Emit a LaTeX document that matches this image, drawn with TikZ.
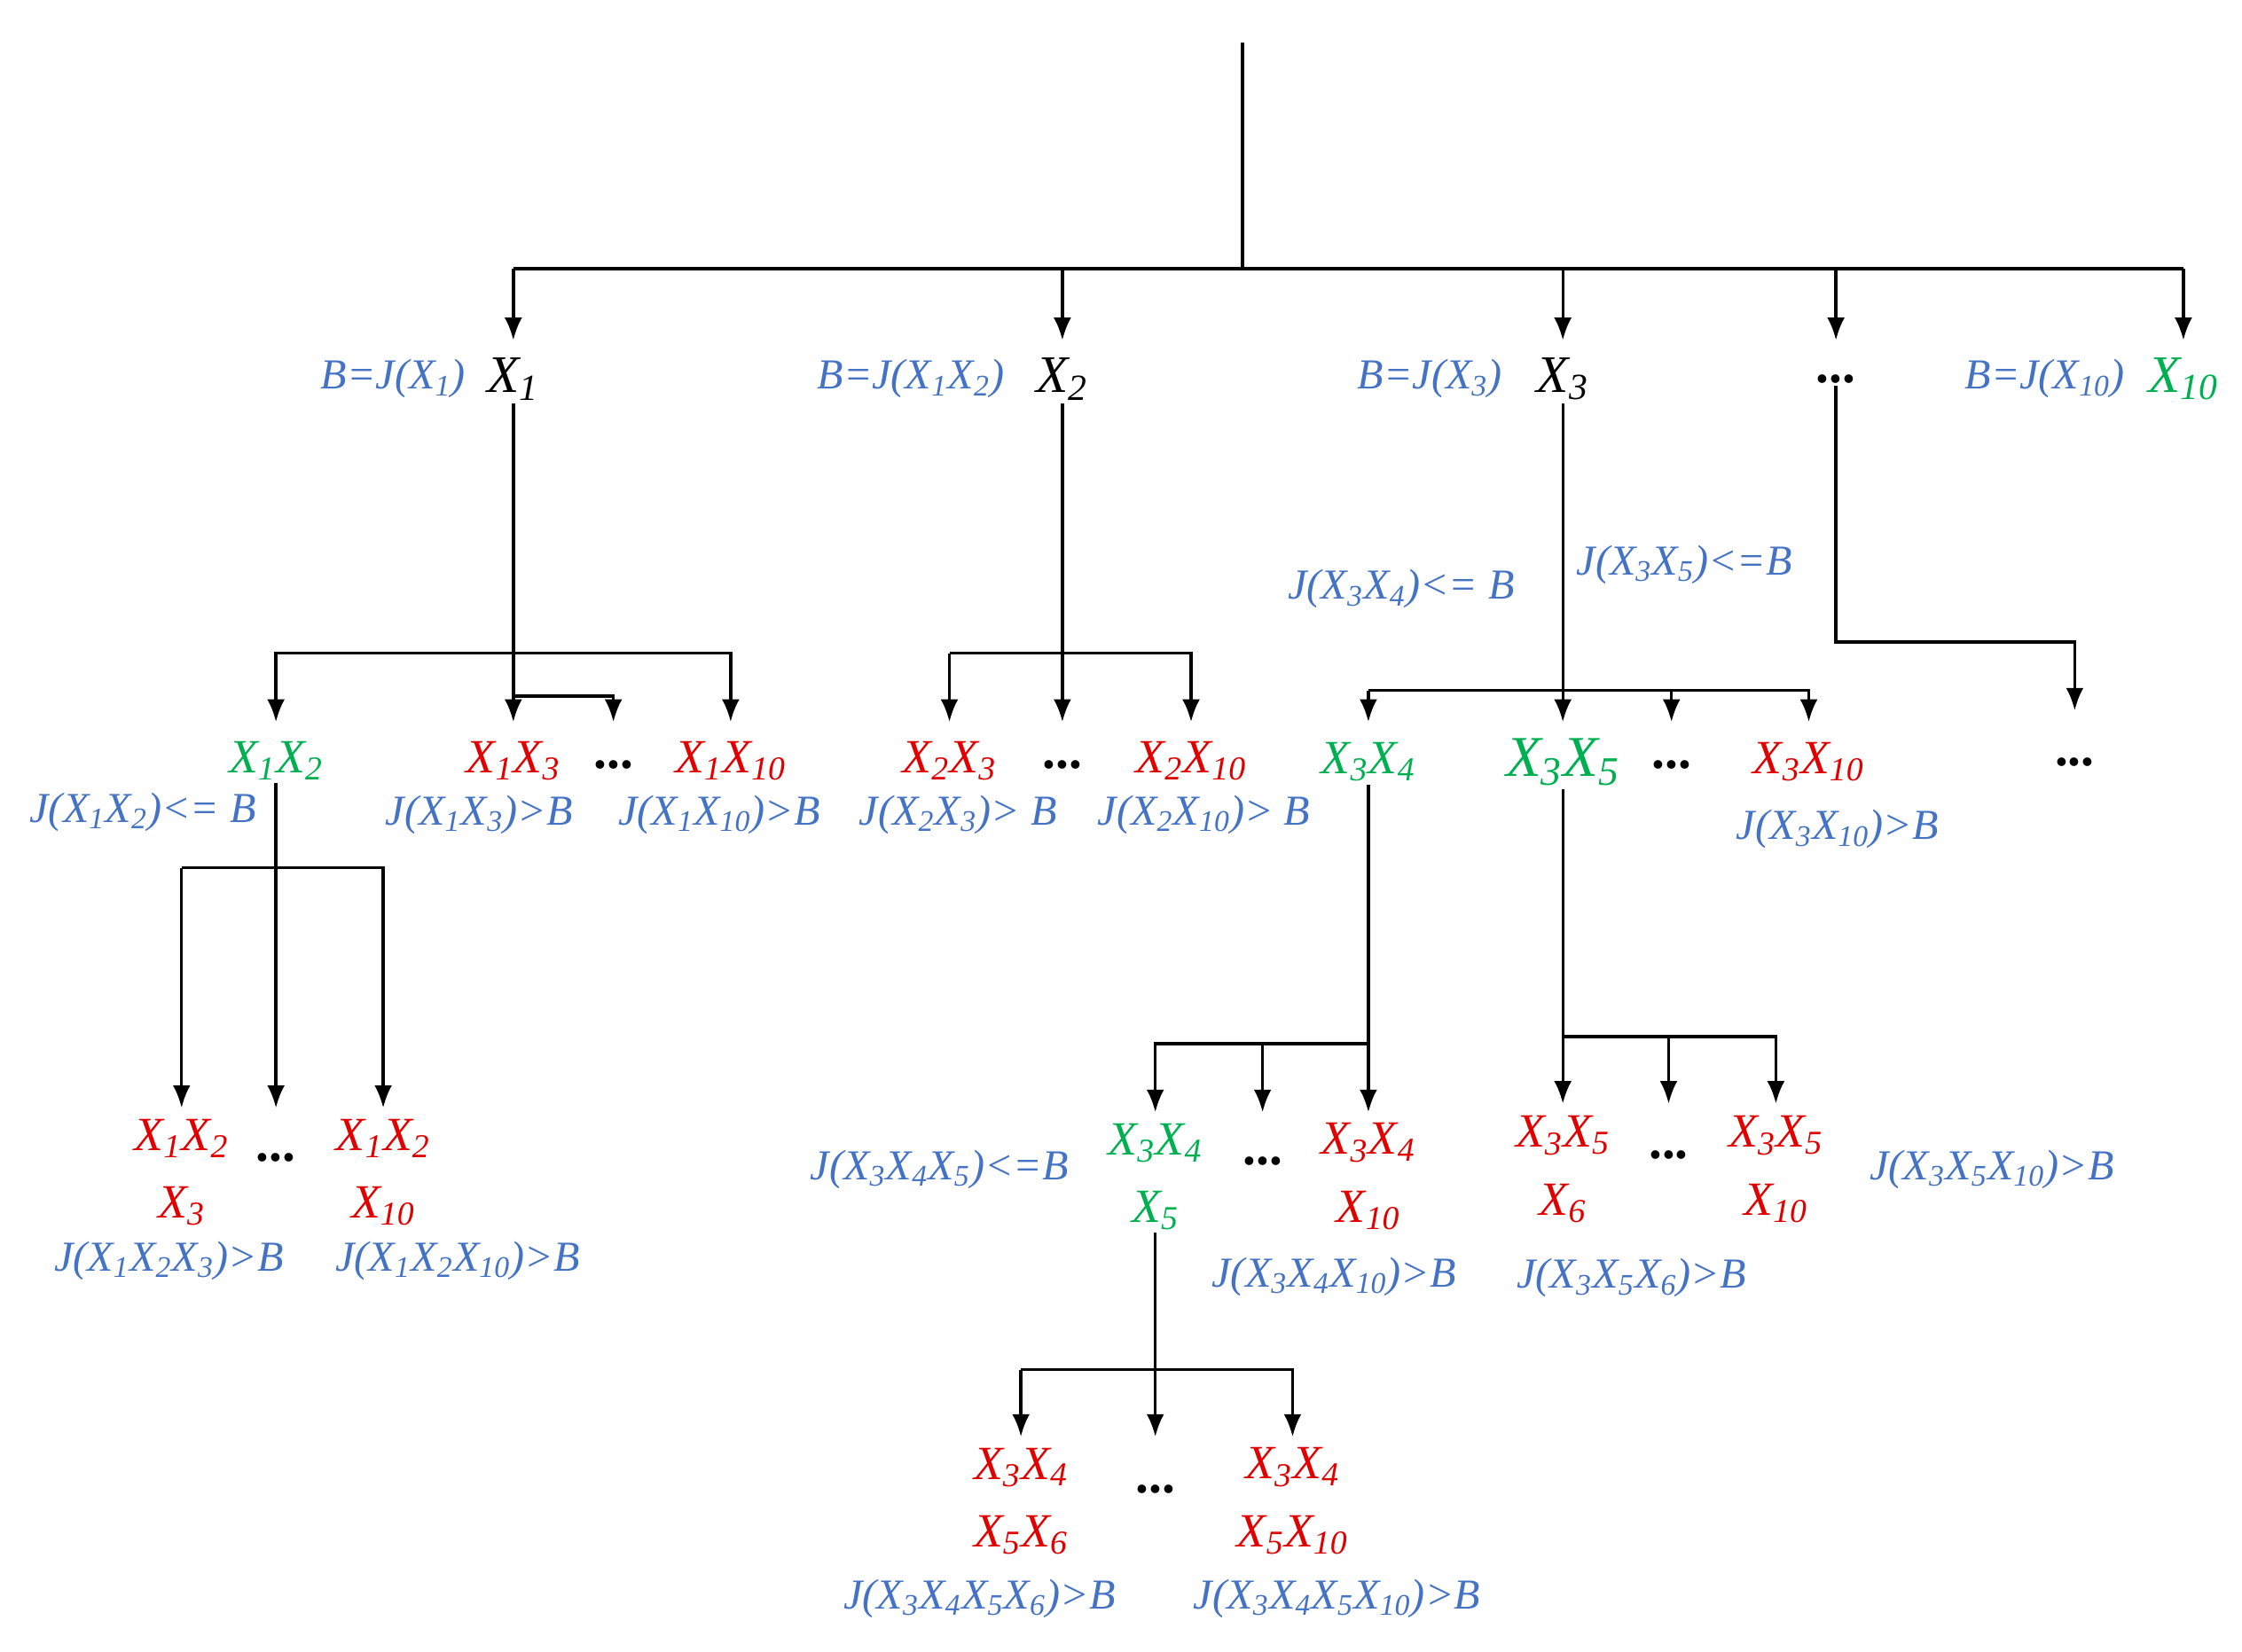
\documentclass[tikz,border=0pt]{standalone}
\usepackage{fontspec}
\setmainfont{Liberation Serif}
\usetikzlibrary{arrows.meta}
\definecolor{cb}{RGB}{68,114,196}
\definecolor{cr}{RGB}{224,0,0}
\definecolor{cg}{RGB}{0,176,80}
\newcommand\xs[1]{X\textsubscript{#1}}
\begin{document}
\begin{tikzpicture}[x=0.02cm,y=-0.02cm,
 arr/.style={line width=1.2pt,-{Latex[length=9pt,width=7pt]}},
 ln/.style={line width=1.2pt},
 lab/.style={text=cb,font=\fontsize{17}{20}\selectfont\itshape,inner sep=1pt},
 bk/.style={font=\fontsize{21}{25}\selectfont\itshape,inner sep=1pt},
 rd/.style={text=cr,font=\fontsize{19}{27}\selectfont\itshape,inner sep=1pt,align=center},
 gr/.style={text=cg,font=\fontsize{19}{27}\selectfont\itshape,inner sep=1pt,align=center},
 dt/.style={font=\fontsize{21}{25}\selectfont\bfseries,inner sep=1pt}]
\useasboundingbox (0,0) rectangle (1568,1155);
\coordinate (top) at (869,30);
\coordinate (rb) at (869,188);
% level 1
\node[bk] (x1) at (359,265) {\xs{1}};
\node[bk] (x2) at (743,265) {\xs{2}};
\node[bk] (x3) at (1093,265) {\xs{3}};
\node[dt] (xd) at (1284,265) {...};
\node[bk,text=cg] (x10) at (1527,265) {\xs{10}};
\node[lab] (b1) at (275,265) {B=J(\xs{1})};
\node[lab] (b2) at (637,265) {B=J(\xs{1}\xs{2})};
\node[lab] (b3) at (1000,265) {B=J(\xs{3})};
\node[lab] (b10) at (1430,265) {B=J(\xs{10})};
\draw[ln] (top) -- (rb);
\draw[ln] (359,188) -- (1527,188);
\foreach \n/\x in {x1/359,x2/743,x3/1093,xd/1284,x10/1527}
  \draw[arr] (\x,188) -- (\x,238);
% level 2
\node[gr] (x12) at (193,532) {\xs{1}\xs{2}};
\node[rd] (x13) at (359,532) {\xs{1}\xs{3}};
\node[dt] (d1) at (429,535) {...};
\node[rd] (x110) at (511,532) {\xs{1}\xs{10}};
\node[lab] at (100,568) {J(\xs{1}\xs{2})<= B};
\node[lab] at (335,570) {J(\xs{1}\xs{3})>B};
\node[lab] at (503,570) {J(\xs{1}\xs{10})>B};
\draw[arr] (x1.south) -- (359,505);
\draw[arr] (359,457) -- (193,457) -- (193,505);
\draw[arr] (359,457) -- (511,457) -- (511,505);
\draw[arr] (359,487) -- (429,487) -- (429,505);

\node[rd] (x23) at (664,532) {\xs{2}\xs{3}};
\node[dt] (d2) at (743,535) {...};
\node[rd] (x210) at (833,532) {\xs{2}\xs{10}};
\node[lab] at (670,570) {J(\xs{2}\xs{3})> B};
\node[lab] at (842,570) {J(\xs{2}\xs{10})> B};
\draw[arr] (x2.south) -- (743,505);
\draw[arr] (664,457) -- (833,457) -- (833,505);
\draw[arr] (664,457) -- (664,505);

\node[gr] (x34) at (957,533) {\xs{3}\xs{4}};
\node[gr,font=\fontsize{23}{27}\selectfont\itshape] (x35) at (1093,533) {\xs{3}\xs{5}};
\node[dt] (d3) at (1169,535) {...};
\node[rd] (x310) at (1265,533) {\xs{3}\xs{10}};
\node[lab] at (980,412) {J(\xs{3}\xs{4})<= B};
\node[lab] at (1178,395) {J(\xs{3}\xs{5})<=B};
\node[lab] at (1285,580) {J(\xs{3}\xs{10})>B};
\draw[arr] (x3.south) -- (1093,505);
\draw[arr] (957,483) -- (1265,483) -- (1265,505);
\draw[arr] (957,483) -- (957,505);
\draw[arr] (1169,483) -- (1169,505);

\node[dt] (d4) at (1451,533) {...};
\draw[arr] (xd.south) -- (1284,449) -- (1451,449) -- (1451,497);

% level 3
\node[rd] (x123) at (127,820) {\xs{1}\xs{2}\\\xs{3}};
\node[dt] (d5) at (193,810) {...};
\node[rd] (x1210) at (268,820) {\xs{1}\xs{2}\\\xs{10}};
\node[lab] at (118,882) {J(\xs{1}\xs{2}\xs{3})>B};
\node[lab] at (320,882) {J(\xs{1}\xs{2}\xs{10})>B};
\draw[arr] (x12.south) -- (193,775);
\draw[arr] (127,607) -- (268,607) -- (268,775);
\draw[arr] (127,607) -- (127,775);

\node[gr] (x345) at (808,823) {\xs{3}\xs{4}\\\xs{5}};
\node[dt] (d6) at (883,812) {...};
\node[rd] (x3410) at (957,823) {\xs{3}\xs{4}\\\xs{10}};
\node[lab] at (657,818) {J(\xs{3}\xs{4}\xs{5})<=B};
\node[lab] at (933,893) {J(\xs{3}\xs{4}\xs{10})>B};
\draw[arr] (x34.south) -- (957,778);
\draw[arr] (957,730) -- (808,730) -- (808,778);
\draw[arr] (883,730) -- (883,778);

\node[rd] (x356) at (1093,818) {\xs{3}\xs{5}\\\xs{6}};
\node[dt] (d7) at (1167,808) {...};
\node[rd] (x3510) at (1242,818) {\xs{3}\xs{5}\\\xs{10}};
\node[lab] at (1393,818) {J(\xs{3}\xs{5}\xs{10})>B};
\node[lab] at (1141,894) {J(\xs{3}\xs{5}\xs{6})>B};
\draw[arr] (x35.south) -- (1093,772);
\draw[arr] (1093,725) -- (1242,725) -- (1242,772);
\draw[arr] (1167,725) -- (1167,772);

% level 4
\node[rd] (x3456) at (714,1050) {\xs{3}\xs{4}\\\xs{5}\xs{6}};
\node[dt] (d8) at (808,1042) {...};
\node[rd] (x34510) at (904,1050) {\xs{3}\xs{4}\\\xs{5}\xs{10}};
\node[lab] at (685,1118) {J(\xs{3}\xs{4}\xs{5}\xs{6})>B};
\node[lab] at (935,1118) {J(\xs{3}\xs{4}\xs{5}\xs{10})>B};
\draw[arr] (x345.south) -- (808,1005);
\draw[arr] (714,958) -- (904,958) -- (904,1005);
\draw[arr] (714,958) -- (714,1005);
\end{tikzpicture}
\end{document}
